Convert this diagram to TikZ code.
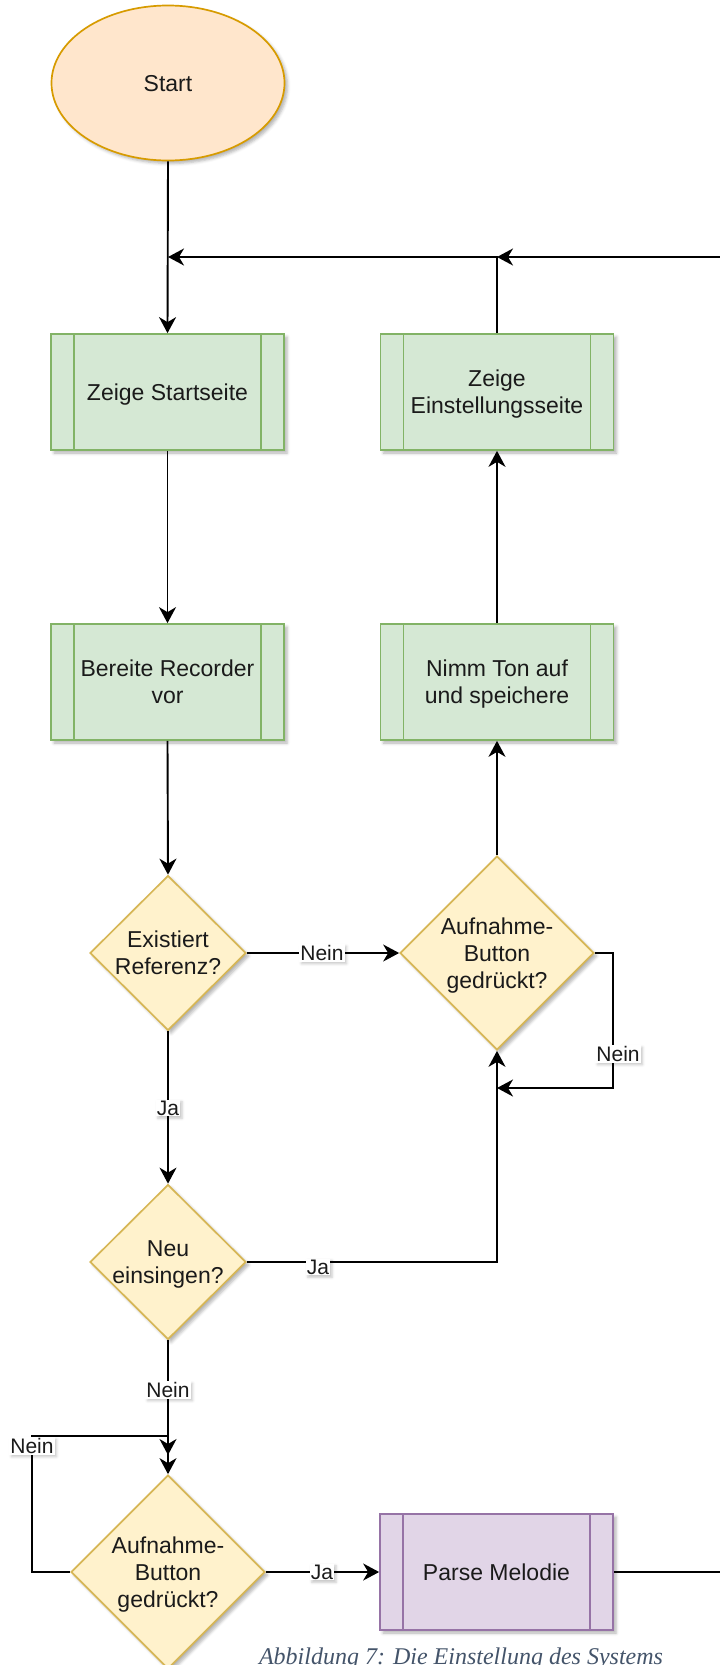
\documentclass[tikz,border=0pt]{standalone}
\usepackage{fontspec}
\setmainfont{Liberation Sans}
\newfontfamily\capfont{Liberation Serif}
\usetikzlibrary{shapes.geometric,arrows.meta,shadows.blur}
\definecolor{orF}{HTML}{FFE6CC}\definecolor{orD}{HTML}{D79B00}
\definecolor{grF}{HTML}{D5E8D4}\definecolor{grD}{HTML}{82B366}
\definecolor{yeF}{HTML}{FFF2CC}\definecolor{yeD}{HTML}{D6B656}
\definecolor{puF}{HTML}{E1D5E7}\definecolor{puD}{HTML}{9673A6}
\definecolor{capc}{HTML}{44546A}
\definecolor{txt}{HTML}{1A1A1A}
\tikzset{
  shd/.style={blur shadow={shadow xshift=3pt,shadow yshift=-3pt,shadow blur radius=3pt,shadow opacity=30}},
  shdl/.style={blur shadow={shadow xshift=2pt,shadow yshift=-2pt,shadow blur radius=2.5pt,shadow opacity=22}},
  basenode/.style={font=\fontsize{23pt}{27pt}\selectfont, text=txt, align=center, line width=1.7pt, text depth=-0.5pt},
  terminal/.style={basenode, ellipse, draw=orD, fill=orF, minimum width=233pt, minimum height=155pt, inner sep=0pt, shd},
  greenproc/.style={basenode, rectangle, draw=grD, fill=grF, minimum width=233pt, minimum height=116pt, inner sep=0pt, shd,
    path picture={\draw[grD,line width=1.7pt] ([xshift=23pt]path picture bounding box.north west) -- ([xshift=23pt]path picture bounding box.south west);
                  \draw[grD,line width=1.7pt] ([xshift=-23pt]path picture bounding box.north east) -- ([xshift=-23pt]path picture bounding box.south east);}},
  purpleproc/.style={basenode, rectangle, draw=puD, fill=puF, minimum width=233pt, minimum height=116pt, inner sep=0pt, shd,
    path picture={\draw[puD,line width=1.7pt] ([xshift=23pt]path picture bounding box.north west) -- ([xshift=23pt]path picture bounding box.south west);
                  \draw[puD,line width=1.7pt] ([xshift=-23pt]path picture bounding box.north east) -- ([xshift=-23pt]path picture bounding box.south east);}},
  decision/.style={basenode, diamond, aspect=1, draw=yeD, fill=yeF, inner sep=0pt, shd},
  arr/.style={-{Stealth[length=16pt,width=17pt,inset=5pt]}, line width=1.9pt, draw=black},
  lbl/.style={font=\fontsize{21pt}{24pt}\selectfont, text=txt, fill=white, inner xsep=1pt, inner ysep=1pt, shdl},
}
\begin{document}
\begin{tikzpicture}[x=1pt,y=-1pt]
\useasboundingbox (0,0) rectangle (720,1665);
\clip (0,0) rectangle (720,1665);
% nodes
\node[terminal] (start) at (168,83) {Start};
\node[greenproc] (zs) at (167.5,392) {Zeige Startseite};
\node[greenproc] (ze) at (497,392) {Zeige\\Einstellungsseite};
\node[greenproc] (br) at (167.5,682) {Bereite Recorder\\vor};
\node[greenproc] (nt) at (497,682) {Nimm Ton auf\\und speichere};
\node[decision, minimum width=156pt, minimum height=155pt] (ex) at (168,953) {Existiert\\Referenz?};
\node[decision, minimum width=194pt, minimum height=194pt] (au) at (497,953) {Aufnahme-\\Button\\gedrückt?};
\node[decision, minimum width=156pt, minimum height=155pt] (ne) at (168,1262) {Neu\\einsingen?};
\node[decision, minimum width=194pt, minimum height=194pt] (ab) at (168,1572) {Aufnahme-\\Button\\gedrückt?};
\node[purpleproc] (pm) at (496.5,1572) {Parse Melodie};
% helper coordinates
\coordinate (j1) at (168,257);
\coordinate (j2) at (497,257);
\coordinate (lp) at (613,1088);
\coordinate (au2) at (497,1088);
\coordinate (lq) at (32,1436);
\coordinate (mid) at (168,1455);
\coordinate (rb) at (760,1572);
% edges
\draw[arr] (start.south) -- (zs.north);
\draw[arr] (ze.north) |- (j1);
\draw[arr] (pm.east) -- (rb) |- (j2);
\draw[arr] (zs.south) -- (br.north);
\draw[arr] (br.south) -- (ex.north);
\draw[arr] (nt.north) -- (ze.south);
\draw[arr] (au.north) -- (nt.south);
\draw[arr] (ex.east) -- (au.west);
\draw[arr] (ex.south) -- (ne.north);
\draw[arr] (au.east) -| (lp) -- (au2);
\draw[arr] (ne.east) -| (au.south);
\draw[arr] (ne.south) -- (mid);
\draw[arr] (ab.west) -| (lq) -| (ab.north);
\draw[arr] (ab.east) -- (pm.west);
% labels
\node[lbl] (l1) at (322,953) {Nein};
\node[lbl] (l2) at (618,1054) {Nein};
\node[lbl] (l3) at (168,1108) {Ja};
\node[lbl] (l4) at (318,1267) {Ja};
\node[lbl] (l5) at (168,1390) {Nein};
\node[lbl] (l6) at (32,1446) {Nein};
\node[lbl] (l7) at (322,1572) {Ja};
% caption
\node[anchor=base, font=\capfont\itshape\fontsize{24pt}{28pt}\selectfont, text=capc, inner sep=0pt] (cap) at (461,1664) {Abbildung 7: Die Einstellung des Systems};
\end{tikzpicture}
\end{document}
